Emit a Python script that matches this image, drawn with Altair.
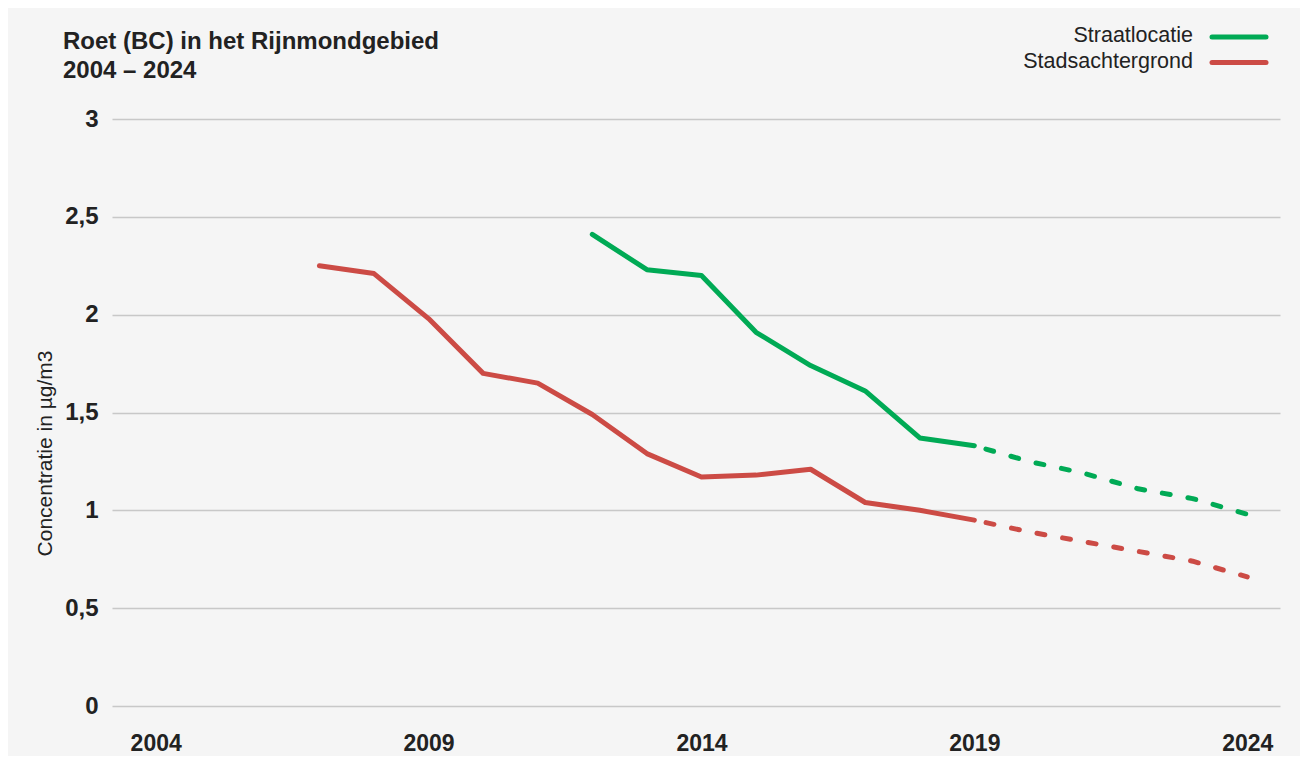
import altair as alt
import pandas as pd

# --- data ---
years_bg = [2007, 2008, 2009, 2010, 2011, 2012, 2013, 2014, 2015, 2016, 2017, 2018, 2019]
vals_bg = [2.25, 2.21, 1.98, 1.70, 1.65, 1.49, 1.29, 1.17, 1.18, 1.21, 1.04, 1.00, 0.95]
years_bg_proj = [2019, 2020, 2021, 2022, 2023, 2024]
vals_bg_proj = [0.95, 0.89, 0.84, 0.79, 0.74, 0.66]

years_st = [2012, 2013, 2014, 2015, 2016, 2017, 2018, 2019]
vals_st = [2.41, 2.23, 2.20, 1.91, 1.74, 1.61, 1.37, 1.33]
years_st_proj = [2019, 2020, 2021, 2022, 2023, 2024]
vals_st_proj = [1.33, 1.25, 1.19, 1.11, 1.06, 0.98]

series_names = ["Straatlocatie", "Stadsachtergrond"]
series_colors = ["#00AA55", "#CC4B45"]
x_ticks = [2004, 2009, 2014, 2019, 2024]
y_ticks = [0, 0.5, 1, 1.5, 2, 2.5, 3]

FONT = "Liberation Sans"

measured = pd.DataFrame(
    {"jaar": years_st + years_bg,
     "waarde": vals_st + vals_bg,
     "reeks": [series_names[0]] * len(years_st) + [series_names[1]] * len(years_bg)}
)
projected = pd.DataFrame(
    {"jaar": years_st_proj + years_bg_proj,
     "waarde": vals_st_proj + vals_bg_proj,
     "reeks": [series_names[0]] * len(years_st_proj) + [series_names[1]] * len(years_bg_proj)}
)

x_enc = alt.X(
    "jaar:Q",
    scale=alt.Scale(domain=[2003.2, 2024.6], nice=False, zero=False),
    axis=alt.Axis(values=x_ticks, format="d", title=None, grid=False, domain=False, ticks=False,
                  labelFont=FONT, labelFontSize=23, labelFontWeight="bold", labelColor="#222222",
                  labelPadding=26),
)
y_enc = alt.Y(
    "waarde:Q",
    scale=alt.Scale(domain=[0, 3], nice=False),
    axis=alt.Axis(values=y_ticks, labelExpr="replace(format(datum.value, '~g'), '.', ',')",
                  title="Concentratie in µg/m3", titleFont=FONT, titleFontSize=21,
                  titleFontWeight="normal", titleColor="#222222", titleAngle=-90,
                  titleX=-67, titleY=334, titleAnchor=None, titleAlign="center", titleBaseline="middle",
                  domain=False, ticks=False, grid=True, gridColor="#c8c8c8", gridWidth=1.5,
                  labelFont=FONT, labelFontSize=24, labelFontWeight="bold", labelColor="#222222",
                  labelPadding=14),
)
color_enc = alt.Color("reeks:N", scale=alt.Scale(domain=series_names, range=series_colors), legend=None)

solid = alt.Chart(measured).mark_line(strokeWidth=5, strokeCap="round", strokeJoin="round").encode(
    x=x_enc, y=y_enc, color=color_enc
)
dashed = alt.Chart(projected).mark_line(
    strokeWidth=5, strokeCap="round", strokeJoin="round", strokeDash=[8, 18], strokeDashOffset=14
).encode(x=x_enc, y=y_enc, color=color_enc)

# custom legend (labels left of the line symbols, as in the reference)
legend_layers = []
for i, (name, col) in enumerate(zip(series_names, series_colors)):
    ly = -83 + i * 25.5
    src = pd.DataFrame({"reeks": [name]})
    legend_layers.append(
        alt.Chart(src).mark_text(align="right", baseline="middle", font=FONT, fontSize=21.5,
                                 color="#222222").encode(
            text="reeks:N", x=alt.value(1081), y=alt.value(ly))
    )
    legend_layers.append(
        alt.Chart(src).mark_rule(strokeWidth=5, strokeCap="round", color=col).encode(
            x=alt.value(1100), x2=alt.value(1154), y=alt.value(ly + 1))
    )

chart = alt.layer(solid, dashed, *legend_layers).properties(
    width=1168,
    height=587,
    autosize=alt.AutoSizeParams(type="none"),
    padding={"left": 104, "top": 111, "right": 20, "bottom": 50},
    background="#f5f5f5",
    title=alt.Title(
        text=["Roet (BC) in het Rijnmondgebied", "2004 – 2024"],
        anchor="start", frame="group", dx=-49, offset=0, dy=58,
        font=FONT, fontSize=24, fontWeight="bold", color="#222222", lineHeight=29,
    ),
).configure_view(stroke=None)

chart.save("out.html", embed_options={"renderer": "svg", "actions": False})
